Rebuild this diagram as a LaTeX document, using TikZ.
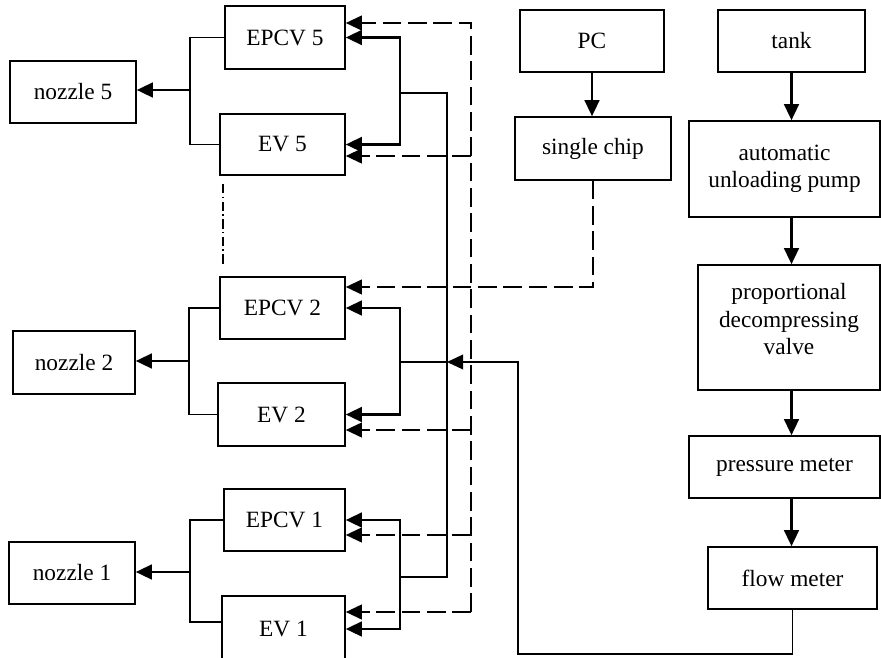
\documentclass[tikz,border=0pt]{standalone}
\usepackage{fontspec}
\setmainfont{Liberation Serif}
\usetikzlibrary{arrows.meta}
\tikzset{every picture/.style={line width=0.75pt}}

\begin{document}
\begin{tikzpicture}[x=0.75pt,y=0.75pt,yscale=-1,xscale=1,
  box/.style 2 args={draw, line width=1.2pt, minimum width=#1*0.75pt, minimum height=#2*0.75pt, inner sep=0pt, align=center, font=\fontsize{17.5}{20.5}\selectfont},
  sigtip/.style={-{Triangle[length=12pt,width=11pt]}},
  feed/.style={line width=1.8pt, sigtip},
  pipe/.style={line width=1.4pt},
  bus/.style={line width=1.1pt},
  ctrl/.style={line width=1.5pt, dash pattern=on 14pt off 5pt},
  skipline/.style={line width=1pt, dash pattern=on 7pt off 2.5pt on 1.2pt off 2.5pt}]
\useasboundingbox (0,0) rectangle (881,657);

%Shape: Rectangle -- nozzles and valves
\node[box={126}{62}] (nozzle5) at (73,92) {nozzle 5};
\node[box={120}{63}] (epcv5) at (285,37.5) {EPCV 5};
\node[box={125}{61}] (ev5) at (282.5,144.5) {EV 5};
\node[box={122}{63}] (nozzle2) at (74,362.5) {nozzle 2};
\node[box={125}{62}] (epcv2) at (282.5,308) {EPCV 2};
\node[box={127}{63}] (ev2) at (281.5,414.5) {EV 2};
\node[box={126}{62}] (nozzle1) at (72,573) {nozzle 1};
\node[box={121}{62}] (epcv1) at (284.5,520) {EPCV 1};
\node[box={123}{66}] (ev1) at (283.5,629) {EV 1};

%Shape: Rectangle -- control and supply
\node[box={144}{62}] (pc) at (592,41) {PC};
\node[box={156}{63}] (chip) at (593,148.5) {single chip};
\node[box={147}{62}] (tank) at (791.5,41) {tank};
\node[box={191}{96}] (pump) at (784.5,169) {automatic\\unloading pump};
\node[box={182}{125}] (valve) at (789,327.5) {proportional\\decompressing\\valve\\[-8pt]};
\node[box={191}{62}] (pmeter) at (784.5,467) {pressure meter};
\node[box={169}{62}] (fmeter) at (792.5,578) {flow meter};

% collectors to the nozzles
\coordinate (m5) at (190,90);
\coordinate (m2) at (189,361);
\coordinate (m1) at (190,572);
\coordinate (lo1) at (190,622);
% supply brackets and bus
\coordinate (j5) at (400,93);
\coordinate (j2) at (400,362);
\coordinate (j1) at (400,577);
\coordinate (b5) at (447,93);
\coordinate (b2) at (447,362);
\coordinate (b1) at (447,577);
% control lines
\coordinate (d5a) at (471,23);
\coordinate (d5b) at (471,156);
\coordinate (d2b) at (471,430);
\coordinate (d1a) at (471,535);
\coordinate (d1b) at (471,612);
\coordinate (c2a) at (594,287);
% return line
\coordinate (r0) at (518,654);
% omitted groups
\coordinate (g0) at (223,184);
\coordinate (g1) at (223,267);

%Straight Lines -- valves to nozzles
\draw[pipe] (epcv5.west) -| (m5) |- (ev5.west);
\draw[feed] (m5) -- (nozzle5.east |- m5);
\draw[pipe] (epcv2.west) -| (m2) |- (ev2.west);
\draw[feed] (m2) -- (nozzle2.east |- m2);
\draw[pipe] (epcv1.west) -| (m1) |- (ev1.west |- lo1);
\draw[feed] (m1) -- (nozzle1.east |- m1);
\draw[skipline] (g0) -- (g1);

%Straight Lines -- supply to valves
\draw[bus] (j5) -- (b5) -- (b1) -- (j1);
\draw[bus] (j2) -- (b2);
\draw[feed] (j5) |- (epcv5.east);
\draw[feed] (j5) |- (ev5.east);
\draw[feed] (j2) |- (epcv2.east);
\draw[feed] (j2) |- (ev2.east);
\draw[feed] (j1) |- (epcv1.east);
\draw[feed] (j1) |- (ev1.east);

%Straight Lines -- control signals
\draw[ctrl, sigtip] (d1b) -- (d5a) -- (epcv5.east |- d5a);
\draw[ctrl, sigtip] (d5b) -- (ev5.east |- d5b);
\draw[ctrl, sigtip] (d2b) -- (ev2.east |- d2b);
\draw[ctrl, sigtip] (d1a) -- (epcv1.east |- d1a);
\draw[ctrl, sigtip] (d1b) -- (ev1.east |- d1b);
\draw[ctrl, sigtip] (chip.south) |- (epcv2.east |- c2a);

%Straight Lines -- right-hand chain
\draw[feed] (pc.south) -- (pc.south |- chip.north);
\draw[feed] (tank.south) -- (tank.south |- pump.north);
\draw[feed] (tank.south |- pump.south) -- (tank.south |- valve.north);
\draw[feed] (tank.south |- valve.south) -- (tank.south |- pmeter.north);
\draw[feed] (tank.south |- pmeter.south) -- (tank.south |- fmeter.north);
\draw[bus, sigtip] (fmeter.south) |- (r0) |- (b2);

\end{tikzpicture}
\end{document}
